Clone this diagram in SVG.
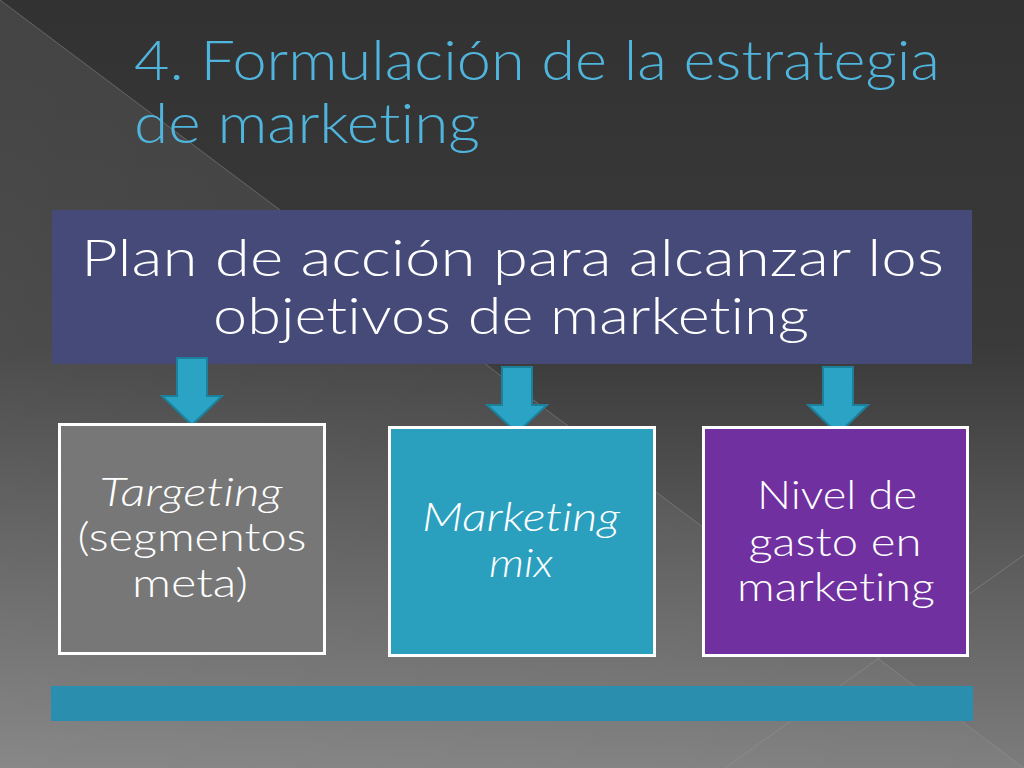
<svg xmlns="http://www.w3.org/2000/svg" width="1024" height="768" viewBox="0 0 1024 768">
  <defs>
    <linearGradient id="bg" x1="0" y1="0" x2="0" y2="1">
      <stop offset="0" stop-color="#323232"/>
      <stop offset="0.45" stop-color="#3a3a3a"/>
      <stop offset="1" stop-color="#7c7c7c"/>
    </linearGradient>
    <linearGradient id="leftshade" x1="0" y1="0" x2="1" y2="0">
      <stop offset="0" stop-color="#ffffff" stop-opacity="0.09"/>
      <stop offset="1" stop-color="#ffffff" stop-opacity="0.03"/>
    </linearGradient>
    <style>
      text { font-variant-ligatures: none; font-feature-settings: "liga" 0, "clig" 0; }
      .title { font-family: "Lato", "Liberation Sans", sans-serif; font-weight: 300; font-size: 55px; fill: #50b5dc; }
      .main { font-family: "Lato", "Liberation Sans", sans-serif; font-weight: 300; font-size: 51px; fill: #ffffff; }
      .lbl { font-family: "Lato", "Liberation Sans", sans-serif; font-weight: 300; font-size: 39px; fill: #ffffff; text-anchor: middle; }
      .it { font-style: italic; }
      .box { stroke: #ffffff; stroke-width: 3; }
      .arrow { fill: #2ba3c5; stroke: #1d7f99; stroke-width: 2; stroke-linejoin: miter; }
      .facet { stroke: #9a9a9a; stroke-opacity: 0.45; stroke-width: 1; fill: none; }
    </style>
  </defs>

  <!-- background -->
  <rect x="0" y="0" width="1024" height="768" fill="url(#bg)"/>
  <polygon points="0,0 1024,768 0,768" fill="url(#leftshade)"/>
  <line class="facet" x1="0" y1="0" x2="1024" y2="768"/>
  <line class="facet" x1="725" y1="768" x2="1024" y2="555"/>

  <!-- title -->
  <g id="title">
    <text class="title" x="134" y="80" textLength="806" lengthAdjust="spacingAndGlyphs">4. Formulación de la estrategia</text>
    <text class="title" x="134" y="143" textLength="346" lengthAdjust="spacingAndGlyphs">de marketing</text>
  </g>

  <!-- main node -->
  <g id="plan">
    <rect x="52" y="210" width="920" height="154" fill="#464a78"/>
    <text class="main" x="81" y="276" textLength="863" lengthAdjust="spacingAndGlyphs">Plan de acción para alcanzar los</text>
    <text class="main" x="213" y="334" textLength="596" lengthAdjust="spacingAndGlyphs">objetivos de marketing</text>
  </g>

  <!-- connectors -->
  <g id="connectors">
    <polygon class="arrow" points="177,358 207,358 207,396 222,396 192,425 162,396 177,396"/>
    <polygon class="arrow" points="502,367 532,367 532,405 547,405 517,433 487,405 502,405"/>
    <polygon class="arrow" points="823,367 853,367 853,405 868,405 838,434 808,405 823,405"/>
  </g>

  <!-- child nodes -->
  <g id="targeting">
    <rect class="box" x="59.5" y="424.5" width="265" height="229" fill="#777777"/>
    <text class="lbl it" x="191" y="506" textLength="183" lengthAdjust="spacingAndGlyphs">Targeting</text>
    <text class="lbl" x="192" y="551" textLength="229" lengthAdjust="spacingAndGlyphs">(segmentos</text>
    <text class="lbl" x="190" y="597" textLength="116" lengthAdjust="spacingAndGlyphs">meta)</text>
  </g>

  <g id="marketing-mix">
    <rect class="box" x="389.5" y="427.5" width="265" height="228" fill="#2aa0be"/>
    <text class="lbl it" x="521" y="531" textLength="198" lengthAdjust="spacingAndGlyphs">Marketing</text>
    <text class="lbl it" x="521" y="577" textLength="64" lengthAdjust="spacingAndGlyphs">mix</text>
  </g>

  <g id="gasto">
    <rect class="box" x="703.5" y="427.5" width="264" height="228" fill="#7030a0"/>
    <text class="lbl" x="837" y="509" textLength="160" lengthAdjust="spacingAndGlyphs">Nivel de</text>
    <text class="lbl" x="835" y="556" textLength="173" lengthAdjust="spacingAndGlyphs">gasto en</text>
    <text class="lbl" x="836" y="601" textLength="198" lengthAdjust="spacingAndGlyphs">marketing</text>
  </g>

  <!-- bottom bar -->
  <g id="bar">
    <rect x="51" y="686" width="922" height="35" fill="#2a8fae"/>
  </g>
</svg>
